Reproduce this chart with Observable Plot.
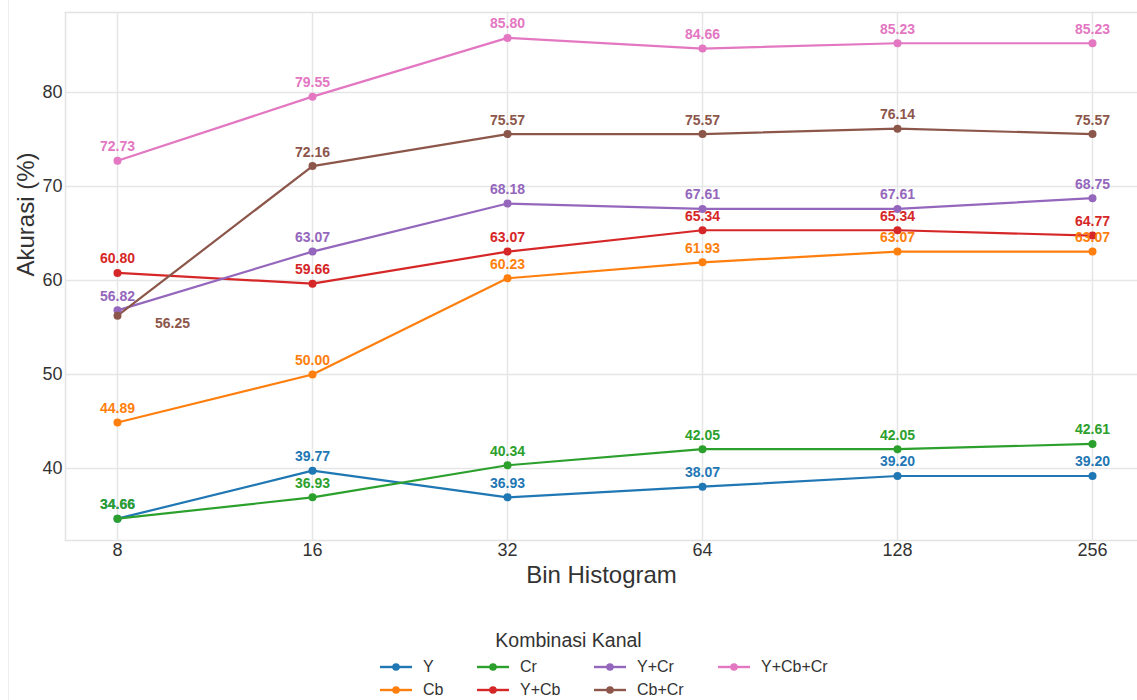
<!DOCTYPE html>
<html>
<head>
<meta charset="utf-8">
<script src="https://cdn.jsdelivr.net/npm/d3@7"></script>
<script src="https://cdn.jsdelivr.net/npm/@observablehq/plot@0.6"></script>
<style>
  body { margin: 0; background: #fff; font-family: "Liberation Sans", Arial, sans-serif; }
  #wrap { position: relative; width: 1137px; height: 700px; overflow: hidden; }
  #edge { position: absolute; left: 8px; top: 0; width: 0; height: 700px; border-left: 1.5px solid #eeeeee; }
  #legend { position: absolute; left: 0; top: 0; width: 1137px; height: 700px; pointer-events: none; }
  #legend .title { position: absolute; left: 0; width: 1137px; top: 629px; line-height: 22px; text-align: center; font-size: 19.5px; color: #333; }
  #legend .item { position: absolute; font-size: 16px; line-height: 18px; color: #333; display: flex; align-items: center; }
  #legend .item svg { margin-right: 10px; }
</style>
</head>
<body>
<div id="wrap">
  <div id="chart"></div>
  <div id="edge"></div>
  <div id="legend"><div class="title">Kombinasi Kanal</div></div>
</div>
<script>
const bins = ["8", "16", "32", "64", "128", "256"];
const seriesNames = ["Y", "Cb", "Cr", "Y+Cb", "Y+Cr", "Cb+Cr", "Y+Cb+Cr"];
const colors = ["#1f77b4", "#ff7f0e", "#2ca02c", "#d62728", "#9467bd", "#8c564b", "#e377c2"];
const valY      = [34.66, 39.77, 36.93, 38.07, 39.20, 39.20];
const valCb     = [44.89, 50.00, 60.23, 61.93, 63.07, 63.07];
const valCr     = [34.66, 36.93, 40.34, 42.05, 42.05, 42.61];
const valYCb    = [60.80, 59.66, 63.07, 65.34, 65.34, 64.77];
const valYCr    = [56.82, 63.07, 68.18, 67.61, 67.61, 68.75];
const valCbCr   = [56.25, 72.16, 75.57, 75.57, 76.14, 75.57];
const valYCbCr  = [72.73, 79.55, 85.80, 84.66, 85.23, 85.23];
const yTicks = [40, 50, 60, 70, 80];

const allVals = [valY, valCb, valCr, valYCb, valYCr, valCbCr, valYCbCr];
const data = [];
seriesNames.forEach((s, i) => {
  bins.forEach((b, j) => data.push({series: s, bin: b, value: allVals[i][j]}));
});
// label for Cb+Cr at bin 8 sits to the lower right
const isSpecial = d => d.series === "Cb+Cr" && d.bin === "8";

const gridColor = "#e6e6e6";
const chart = Plot.plot({
  width: 1137,
  height: 626,
  marginLeft: 65,
  marginRight: 0,
  marginTop: 12,
  marginBottom: 86,
  style: {fontFamily: "Liberation Sans, Arial, sans-serif", background: "#fff"},
  x: {type: "point", domain: bins, range: [115, 1093], padding: 0, label: null},
  y: {domain: [32.34, 88.5], label: null},
  color: {domain: seriesNames, range: colors},
  marks: [
    Plot.ruleY(yTicks, {stroke: gridColor, strokeWidth: 1.5}),
    Plot.ruleX(bins, {x: d => d, stroke: gridColor, strokeWidth: 1.5}),
    Plot.frame({anchor: "top", stroke: "#e3e3e3", strokeWidth: 1.5}),
    Plot.frame({anchor: "bottom", stroke: "#e3e3e3", strokeWidth: 1.5}),
    Plot.frame({anchor: "left", stroke: "#e3e3e3", strokeWidth: 1.5}),
    Plot.axisY({ticks: yTicks, tickSize: 0, tickPadding: 3, fontSize: 18, fill: "#333", label: null}),
    Plot.axisX({tickSize: 0, tickPadding: 3, fontSize: 18, fill: "#333", label: null}),
    Plot.text(["Akurasi (%)"], {frameAnchor: "left", dx: -39, rotate: -90, fontSize: 24, fill: "#333", text: d => d}),
    Plot.text(["Bin Histogram"], {frameAnchor: "bottom", dy: 42, fontSize: 24, fill: "#333", text: d => d}),
    Plot.line(data, {x: "bin", y: "value", z: "series", stroke: "series", strokeWidth: 2.2}),
    Plot.dot(data, {x: "bin", y: "value", fill: "series", r: 4}),
    Plot.text(data.filter(d => !isSpecial(d)), {x: "bin", y: "value", text: d => d.value.toFixed(2), fill: "series", dy: -14, fontSize: 14, fontWeight: "bold"}),
    Plot.text(data.filter(isSpecial), {x: "bin", y: "value", text: d => d.value.toFixed(2), fill: "series", dx: 55, dy: 8, fontSize: 14, fontWeight: "bold"})
  ]
});
document.getElementById("chart").appendChild(chart);

// legend (column-major, 4 columns x 2 rows)
const legend = document.getElementById("legend");
const colX = [379, 476, 593, 717];
const rowY = [667, 690];
seriesNames.forEach((s, i) => {
  const col = Math.floor(i / 2), row = i % 2;
  const item = document.createElement("div");
  item.className = "item";
  item.style.left = colX[col] + "px";
  item.style.top = (rowY[row] - 9) + "px";
  item.innerHTML = `<svg width="34" height="18"><line x1="1" x2="33" y1="9" y2="9" stroke="${colors[i]}" stroke-width="2.4"/><circle cx="17" cy="9" r="3.8" fill="${colors[i]}"/></svg><span>${s}</span>`;
  legend.appendChild(item);
});
</script>
</body>
</html>
